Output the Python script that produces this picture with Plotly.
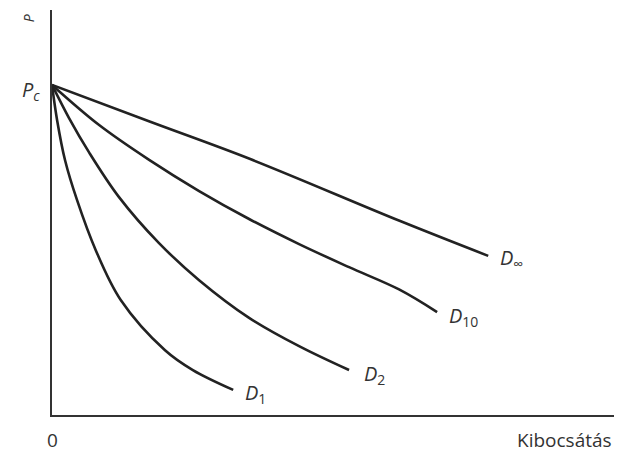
import plotly.graph_objects as go

# Demand curves (quantity, price)
d_inf_q = [0, 17.3, 34.9, 61.3, 76.8]
d_inf_p = [81.5, 72.4, 63.2, 47.9, 39.3]

d10_q = [0, 8.3, 17.1, 25.9, 34.7, 43.5, 52.3, 61.1, 67.8]
d10_p = [81.5, 71.6, 63.0, 55.3, 48.4, 42.2, 36.5, 31.0, 25.4]

d2_q = [0, 3.0, 6.5, 11.8, 18.8, 25.9, 34.7, 43.5, 52.3]
d2_p = [81.5, 73.3, 64.9, 53.8, 42.5, 33.3, 24.0, 17.0, 11.1]

d1_q = [0, 0.9, 2.3, 4.4, 7.7, 12.1, 19.9, 24.8, 31.9]
d1_p = [81.5, 72.8, 62.9, 53.1, 40.7, 28.4, 16.0, 11.1, 6.2]

curve_labels = ["<i>D</i><sub>∞</sub>", "<i>D</i><sub>10</sub>",
                "<i>D</i><sub>2</sub>", "<i>D</i><sub>1</sub>"]
label_q = [78.6, 69.6, 54.6, 33.6]
label_p = [38.6, 24.2, 10.0, 5.4]

line_color = "#222222"
text_color = "#333333"
font_family = "Open Sans, Noto Sans, sans-serif"

fig = go.Figure()
for q, p in [(d_inf_q, d_inf_p), (d10_q, d10_p), (d2_q, d2_p), (d1_q, d1_p)]:
    fig.add_trace(go.Scatter(x=q, y=p, mode="lines",
                             line=dict(color=line_color, width=2.6, shape="spline", smoothing=1.0),
                             showlegend=False, hoverinfo="skip"))

annotations = []
for t, q, p in zip(curve_labels, label_q, label_p):
    annotations.append(dict(x=q, y=p, text=t, showarrow=False, xanchor="left", yanchor="middle",
                            font=dict(size=20, color=text_color, family=font_family)))

annotations += [
    dict(x=-0.017, y=0.80, xref="paper", yref="paper", text="<i>P</i><sub><i>c</i></sub>",
         showarrow=False, xanchor="right", yanchor="middle",
         font=dict(size=20, color=text_color, family=font_family)),
    dict(x=-0.042, y=0.98, xref="paper", yref="paper", text="<i>P</i>", showarrow=False,
         textangle=-90, xanchor="center", yanchor="middle",
         font=dict(size=14, color=text_color, family=font_family)),
    dict(x=0, y=-0.062, xref="paper", yref="paper", text="0", showarrow=False,
         xanchor="center", yanchor="middle",
         font=dict(size=19, color=text_color, family=font_family)),
    dict(x=0.99, y=-0.062, xref="paper", yref="paper", text="Kibocsátás", showarrow=False,
         xanchor="right", yanchor="middle",
         font=dict(size=19, color=text_color, family=font_family)),
]

fig.update_layout(
    width=614, height=446,
    margin=dict(l=44, r=2, t=2, b=39),
    paper_bgcolor="white", plot_bgcolor="white",
    xaxis=dict(range=[0, 100], showgrid=False, zeroline=False, showticklabels=False, ticks="",
               showline=True, linecolor="#333333", linewidth=2),
    yaxis=dict(range=[0, 100], showgrid=False, zeroline=False, showticklabels=False, ticks="",
               showline=True, linecolor="#333333", linewidth=2),
    annotations=annotations,
)

fig.write_html("out.html")
